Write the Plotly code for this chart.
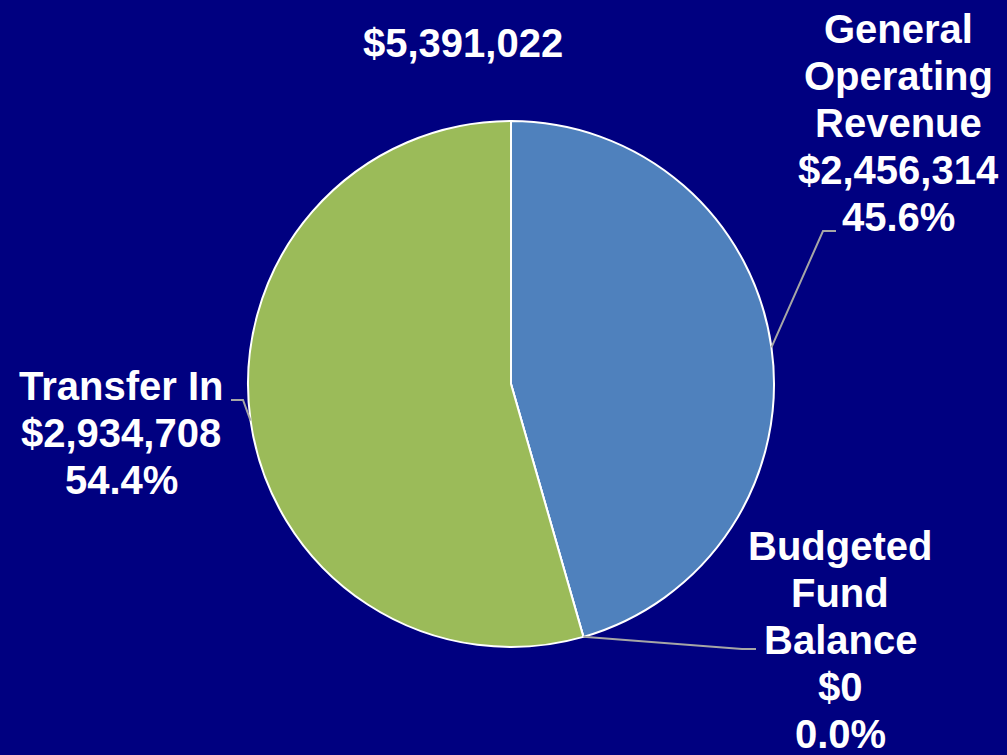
"""Revenue pie chart."""

import numpy as np
import plotly.graph_objects as go

W, H = 1007, 755
BG = "#000080"
FONT = "Liberation Sans, Arial, sans-serif"

labels = ["General Operating Revenue", "Budgeted Fund Balance", "Transfer In"]
label_lines = [["General", "Operating", "Revenue"], ["Budgeted", "Fund", "Balance"], ["Transfer In"]]
values = [2456314, 0, 2934708]
colors = ["#4F81BD", "#9BBB59", "#9BBB59"]
total_text = "$5,391,022"

# pie placement in pixels
CX, CY, R = 511, 384, 263
# x centre and first-line y of each label block, line step (pixels)
label_pos = [(898.5, 29), (840, 546), (121, 386)]
LINE_STEP = 47
# leader elbow / end points (pixels)
elbows = [((823, 231), (836, 231)), ((742, 649), (756, 649)), ((243, 400), (231, 400))]


def px(x):
    return x / W


def py(y):
    return 1 - y / H


fig = go.Figure(go.Pie(
    labels=labels, values=values, sort=False, direction="clockwise", rotation=0,
    marker=dict(colors=colors, line=dict(color="white", width=2)),
    textinfo="none", hoverinfo="label+value+percent", showlegend=False,
    domain=dict(x=[px(CX - R), px(CX + R)], y=[py(CY + R), py(CY - R)]),
))

total = sum(values)
cum = 0
for i, v in enumerate(values):
    mid = (cum + v / 2) / total * 2 * np.pi
    cum += v
    ex, ey = CX + R * np.sin(mid), CY - R * np.cos(mid)
    (bx, by), (tx, ty) = elbows[i]
    fig.add_shape(type="path", xref="paper", yref="paper",
                  path=f"M {px(ex)} {py(ey)} L {px(bx)} {py(by)} L {px(tx)} {py(ty)}",
                  line=dict(color="#A6A6A6", width=2))
    pct = v / total * 100
    lines = label_lines[i] + [f"${v:,.0f}", f"{pct:.1f}%"]
    lx, ly = label_pos[i]
    for j, line in enumerate(lines):
        fig.add_annotation(x=px(lx), y=py(ly + j * LINE_STEP), xref="paper", yref="paper",
                           text=f"<b>{line}</b>", showarrow=False,
                           xanchor="center", yanchor="middle",
                           font=dict(family=FONT, size=40, color="white"))

fig.add_annotation(x=px(462.5), y=py(43), xref="paper", yref="paper", text=f"<b>{total_text}</b>",
                   showarrow=False, xanchor="center", yanchor="middle",
                   font=dict(family=FONT, size=40, color="white"))

fig.update_layout(width=W, height=H, margin=dict(l=0, r=0, t=0, b=0),
                  paper_bgcolor=BG, plot_bgcolor=BG,
                  font=dict(family=FONT, size=40, color="white"))

fig.write_html("out.html", config={"displayModeBar": False},
               post_script="document.body.style.margin='0';")
